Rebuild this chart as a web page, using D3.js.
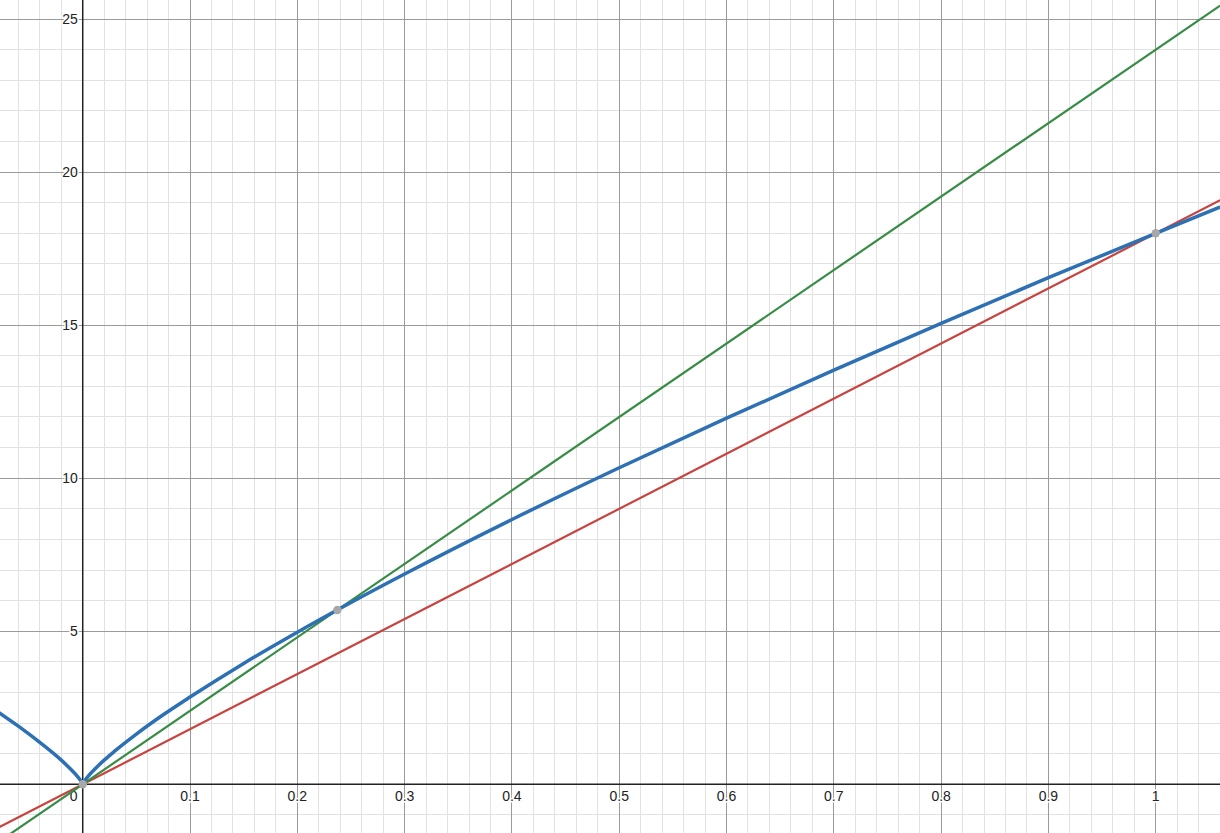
<!DOCTYPE html>
<html><head><meta charset="utf-8">
<script src="https://cdn.jsdelivr.net/npm/d3@7"></script>
<style>body{margin:0;background:#fff;overflow:hidden}svg{display:block}</style>
</head><body>
<svg id="c" width="1220" height="833"></svg>
<script>
// Blue curve
const curveX = [-0.08,-0.06,-0.04,-0.02,-0.01,-0.005,-0.002,-0.001,0,0.001,0.002,0.005,0.01,0.02,0.03,0.05,0.075,0.1,0.15,0.2,0.25,0.3,0.4,0.5,0.6,0.7,0.8,0.9,1.0,1.06];
const curveY = [2.39,1.90,1.37,0.79,0.45,0.26,0.125,0.072,0,0.072,0.125,0.26,0.45,0.79,1.09,1.64,2.27,2.85,3.95,4.97,5.94,6.87,8.65,10.34,11.96,13.53,15.06,16.55,18.0,18.86];
// Straight lines (endpoints)
const greenX = [-0.08, 1.06];
const greenY = [-1.92, 25.44];
const redX = [-0.08, 1.06];
const redY = [-1.44, 19.08];
// Marked points
const ptsX = [0, 0.2373, 1];
const ptsY = [0, 5.695, 18];
// Tick labels
const xTicks = [0.1,0.2,0.3,0.4,0.5,0.6,0.7,0.8,0.9,1];
const yTicks = [5,10,15,20,25];

const W = 1220, H = 833;
const x = d3.scaleLinear().domain([-0.0771, 1.0599]).range([0, W]);
const y = d3.scaleLinear().domain([-1.591, 25.622]).range([H, 0]);
const svg = d3.select("#c");

// minor grid
const xMinor = d3.range(-0.06, 1.061, 0.02).map(v => Math.round(v*100)/100);
const yMinor = d3.range(-1, 26, 1);
const g = svg.append("g");
g.selectAll(".xm").data(xMinor).join("line")
  .attr("x1", d => x(d)).attr("x2", d => x(d)).attr("y1", 0).attr("y2", H)
  .attr("stroke", "#e2e2e2").attr("stroke-width", 1).attr("shape-rendering","crispEdges");
g.selectAll(".ym").data(yMinor).join("line")
  .attr("y1", d => y(d)).attr("y2", d => y(d)).attr("x1", 0).attr("x2", W)
  .attr("stroke", "#e2e2e2").attr("stroke-width", 1).attr("shape-rendering","crispEdges");
// major grid
g.selectAll(".xM").data(xTicks).join("line")
  .attr("x1", d => x(d)).attr("x2", d => x(d)).attr("y1", 0).attr("y2", H)
  .attr("stroke", "#9a9a9a").attr("stroke-width", 1).attr("shape-rendering","crispEdges");
g.selectAll(".yM").data(yTicks).join("line")
  .attr("y1", d => y(d)).attr("y2", d => y(d)).attr("x1", 0).attr("x2", W)
  .attr("stroke", "#9a9a9a").attr("stroke-width", 1).attr("shape-rendering","crispEdges");
// axes
g.append("line").attr("x1", x(0)).attr("x2", x(0)).attr("y1", 0).attr("y2", H)
  .attr("stroke", "#222").attr("stroke-width", 1.5);
g.append("line").attr("y1", y(0)).attr("y2", y(0)).attr("x1", 0).attr("x2", W)
  .attr("stroke", "#222").attr("stroke-width", 1.5);

// labels
const lab = svg.append("g").attr("font-family", "Arial, 'Liberation Sans', sans-serif")
  .attr("font-size", 14).attr("fill", "#222")
  .attr("stroke", "#fff").attr("stroke-width", 3).attr("paint-order", "stroke");
lab.selectAll(".xl").data(xTicks).join("text")
  .attr("x", d => x(d)).attr("y", y(0) + 17).attr("text-anchor", "middle").text(d => d3.format("")(d));
lab.append("text").attr("x", x(0) - 9).attr("y", y(0) + 17).attr("text-anchor", "middle").text("0");
lab.selectAll(".yl").data(yTicks).join("text")
  .attr("x", x(0) - 5).attr("y", d => y(d) + 5).attr("text-anchor", "end").text(d => d);

// lines
const line = d3.line().x(d => x(d[0])).y(d => y(d[1]));
svg.append("path").datum(d3.zip(redX, redY)).attr("d", line)
  .attr("fill", "none").attr("stroke", "#c74440").attr("stroke-width", 2.2);
svg.append("path").datum(d3.zip(greenX, greenY)).attr("d", line)
  .attr("fill", "none").attr("stroke", "#388c46").attr("stroke-width", 2.2);
svg.append("path").datum(d3.zip(curveX, curveY)).attr("d", line.curve(d3.curveMonotoneX))
  .attr("fill", "none").attr("stroke", "#2d70b3").attr("stroke-width", 3.5).attr("stroke-linejoin","round");
// points
svg.selectAll(".pt").data(d3.zip(ptsX, ptsY)).join("circle")
  .attr("cx", d => x(d[0])).attr("cy", d => y(d[1])).attr("r", 4.2).attr("fill", "#a8a8a8");
</script>
</body></html>
